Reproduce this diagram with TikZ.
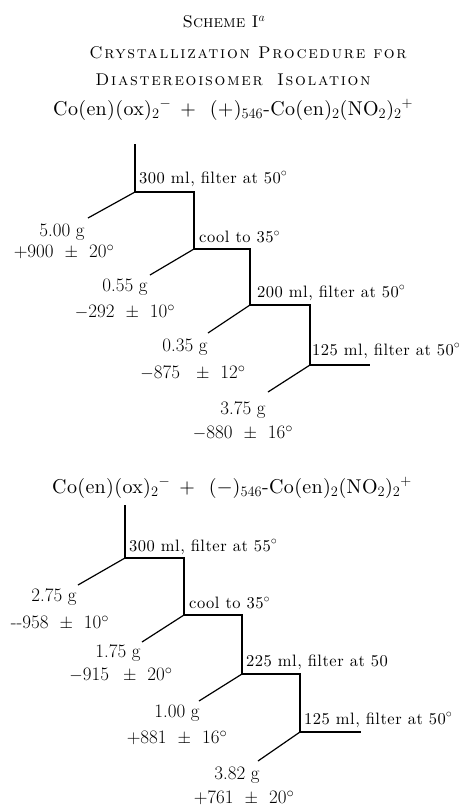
\documentclass[tikz,border=0pt]{standalone}
\usepackage{fontspec}
\newfontfamily\capsfont[LetterSpace=10]{lmromancaps10-regular.otf}
\newfontfamily\eqfont[LetterSpace=1.8]{lmroman10-regular.otf}
\newfontfamily\lblfont[LetterSpace=3]{lmroman10-regular.otf}
\newcommand{\pmsp}{\hspace{11pt}$\pm$\hspace{11pt}}
\begin{document}
\begin{tikzpicture}[x=1pt,y=-1pt,
  big/.style={inner sep=0pt,font=\fontsize{19}{22}\selectfont},
  eq/.style={inner sep=0pt,font=\fontsize{20}{24}\eqfont},
  small/.style={inner sep=0pt,anchor=west,font=\fontsize{16.5}{19}\lblfont},
  ttl/.style={inner sep=0pt,font=\fontsize{17}{20}\selectfont\scshape},
  ttlw/.style={inner sep=0pt,font=\fontsize{17}{20}\capsfont},
  ln/.style={line width=1.2pt}]
\useasboundingbox (0,0) rectangle (460,806);
% titles
\node[ttl] (t1) at (224,22) {Scheme I$^a$};
\node[ttlw] (t2) at (248,53) {Crystallization Procedure for};
\node[ttlw] (t3) at (233,80) {Diastereoisomer\hspace{6pt} Isolation};
% ===== tree 1
\node[eq,anchor=west] (eqa) at (53,110) {Co(en)(ox)${}_2{}^{-}$\hspace{9pt}+\hspace{14pt}(+)${}_{546}$-Co(en)${}_2$(NO${}_2$)${}_2{}^{+}$};
\coordinate (a0) at (135,144);
\coordinate (a1) at (135,192);
\coordinate (a2) at (194,249);
\coordinate (a3) at (250,305);
\coordinate (a4) at (310,365);
\coordinate (a5) at (370,365);
\coordinate (d1) at (88,218);
\coordinate (d2) at (150,275);
\coordinate (d3) at (208,333);
\coordinate (d4) at (268,392);
\draw[ln] (a0) -- (a1) -| (a2) -| (a3) -| (a4) -- (a5);
\draw[ln] (a1) -- (d1);
\draw[ln] (a2) -- (d2);
\draw[ln] (a3) -- (d3);
\draw[ln] (a4) -- (d4);
\node[small] (s1) at (139,179) {300 ml, filter at 50$^\circ$};
\node[small] (s2) at (199,237) {cool to 35$^\circ$};
\node[small] (s3) at (257,293) {200 ml, filter at 50$^\circ$};
\node[small] (s4) at (312,351) {125 ml, filter at 50$^\circ$};
\node[big] (m1) at (62,232) {5.00 g};
\node[big] (r1) at (64,252) {+900\pmsp20$^\circ$};
\node[big] (m2) at (125,287) {0.55 g};
\node[big] (r2) at (125,312) {$-$292\pmsp10$^\circ$};
\node[big] (m3) at (185,347) {0.35 g};
\node[big] (r3) at (193,373) {$-$875\hspace{5pt}\pmsp12$^\circ$};
\node[big] (m4) at (243,410) {3.75 g};
\node[big] (r4) at (243,433) {$-$880\pmsp16$^\circ$};
% ===== tree 2
\node[eq,anchor=west] (eqb) at (52,488) {Co(en)(ox)${}_2{}^{-}$\hspace{9pt}+\hspace{14pt}($-$)${}_{546}$-Co(en)${}_2$(NO${}_2$)${}_2{}^{+}$};
\coordinate (b0) at (125,505);
\coordinate (b1) at (125,558);
\coordinate (b2) at (184,615);
\coordinate (b3) at (242,674);
\coordinate (b4) at (300,732);
\coordinate (b5) at (361,732);
\coordinate (e1) at (78,585);
\coordinate (e2) at (142,642);
\coordinate (e3) at (199,701);
\coordinate (e4) at (258,761);
\draw[ln] (b0) -- (b1) -| (b2) -| (b3) -| (b4) -- (b5);
\draw[ln] (b1) -- (e1);
\draw[ln] (b2) -- (e2);
\draw[ln] (b3) -- (e3);
\draw[ln] (b4) -- (e4);
\node[small] (u1) at (129,547) {300 ml, filter at 55$^\circ$};
\node[small] (u2) at (189,603) {cool to 35$^\circ$};
\node[small] (u3) at (246,662) {225 ml, filter at 50};
\node[small] (u4) at (304,720) {125 ml, filter at 50$^\circ$};
\node[big] (n1) at (54,597) {2.75 g};
\node[big] (q1) at (60,623) {-{}-958\pmsp10$^\circ$};
\node[big] (n2) at (118,653) {1.75 g};
\node[big] (q2) at (121,675) {$-$915\hspace{3pt}\pmsp20$^\circ$};
\node[big] (n3) at (177,713) {1.00 g};
\node[big] (q3) at (177,738) {+881\pmsp16$^\circ$};
\node[big] (n4) at (237,775) {3.82 g};
\node[big] (q4) at (244,798) {+761\pmsp20$^\circ$};
\end{tikzpicture}
\end{document}
